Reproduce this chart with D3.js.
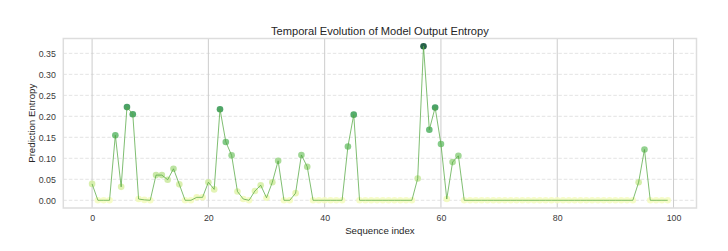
<!DOCTYPE html>
<html><head><meta charset="utf-8">
<script src="https://cdn.jsdelivr.net/npm/d3@7"></script>
<style>body{margin:0;background:#fff;} svg{display:block;font-family:"Liberation Sans",Arial,sans-serif;}</style>
</head><body>
<svg id="c" width="728" height="251"></svg>
<script>
const title = "Temporal Evolution of Model Output Entropy";
const xLabel = "Sequence index";
const yLabel = "Prediction Entropy";
const xTicks = [0, 20, 40, 60, 80, 100];
const yTicks = [0.00, 0.05, 0.10, 0.15, 0.20, 0.25, 0.30, 0.35];
const entropy = [
  0.039, 0.000, 0.000, 0.000, 0.155, 0.032, 0.222, 0.205, 0.003, 0.001,
  0.000, 0.060, 0.060, 0.049, 0.075, 0.038, 0.000, 0.000, 0.007, 0.007,
  0.043, 0.026, 0.217, 0.139, 0.107, 0.021, 0.003, 0.000, 0.022, 0.036,
  0.006, 0.043, 0.094, 0.000, 0.000, 0.017, 0.108, 0.080, 0.000, 0.000,
  0.000, 0.000, 0.000, 0.000, 0.128, 0.204, 0.000, 0.000, 0.000, 0.000,
  0.000, 0.000, 0.000, 0.000, 0.000, 0.000, 0.052, 0.367, 0.168, 0.221,
  0.134, 0.003, 0.091, 0.106, 0.000, 0.000, 0.000, 0.000, 0.000, 0.000,
  0.000, 0.000, 0.000, 0.000, 0.000, 0.000, 0.000, 0.000, 0.000, 0.000,
  0.000, 0.000, 0.000, 0.000, 0.000, 0.000, 0.000, 0.000, 0.000, 0.000,
  0.000, 0.000, 0.000, 0.000, 0.043, 0.121, 0.000, 0.000, 0.000, 0.000
];
const data = entropy.map((v, i) => ({i, v}));

const svg = d3.select("#c");
const L = 63.3, R = 696.5, T = 38.5, B = 208;
const n = entropy.length;
const xm = (n - 1) * 0.05;
const vmax = d3.max(entropy);
const ym = vmax * 0.05;
const x = d3.scaleLinear().domain([-xm, n - 1 + xm]).range([L, R]);
const y = d3.scaleLinear().domain([-ym, vmax + ym]).range([B, T]);
const cnorm = d3.scalePow().exponent(0.8).domain([-0.03, vmax]).range([0, 1]).clamp(true);
const color = v => d3.interpolateYlGn(cnorm(v));

// grid
svg.append("g").selectAll("line").data(yTicks).join("line")
  .attr("x1", L).attr("x2", R).attr("y1", d => y(d)).attr("y2", d => y(d))
  .attr("stroke", "#dcdcdc").attr("stroke-width", 0.8).attr("stroke-dasharray", "3.5,2");
svg.append("g").selectAll("line").data(xTicks).join("line")
  .attr("x1", d => x(d)).attr("x2", d => x(d)).attr("y1", T).attr("y2", B)
  .attr("stroke", "#cccccc").attr("stroke-width", 1);

// spines
svg.append("rect").attr("x", L).attr("y", T).attr("width", R - L).attr("height", B - T)
  .attr("fill", "none").attr("stroke", "#dddddd").attr("stroke-width", 1.5);

// points
svg.append("g").selectAll("circle").data(data).join("circle")
  .attr("cx", d => x(d.i)).attr("cy", d => y(d.v)).attr("r", 3.3)
  .attr("fill", d => color(d.v)).attr("fill-opacity", 0.85);

// line
svg.append("path").datum(data)
  .attr("d", d3.line().x(d => x(d.i)).y(d => y(d.v)))
  .attr("fill", "none").attr("stroke", "#55a843").attr("stroke-opacity", 0.75).attr("stroke-width", 1);

// axes
const xa = d3.axisBottom(x).tickValues(xTicks).tickSize(0).tickPadding(7).tickFormat(d3.format("d"));
const gx = svg.append("g").attr("transform", `translate(0,${B})`).call(xa);
const ya = d3.axisLeft(y).tickValues(yTicks).tickSize(0).tickPadding(7.5).tickFormat(d3.format(".2f"));
const gy = svg.append("g").attr("transform", `translate(${L},0)`).call(ya);
[gx, gy].forEach(g => {
  g.select(".domain").remove();
  g.selectAll("text").attr("fill", "#3a3a3a").attr("font-size", 8.8).attr("font-family", "Liberation Sans, Arial, sans-serif");
});

svg.append("text").attr("x", (L + R) / 2).attr("y", 35).attr("text-anchor", "middle")
  .attr("font-size", 11.1).attr("fill", "#262626").text(title);
svg.append("text").attr("x", (L + R) / 2).attr("y", 234).attr("text-anchor", "middle")
  .attr("font-size", 9.7).attr("fill", "#262626").text(xLabel);
svg.append("text").attr("transform", `translate(35,${(T + B) / 2}) rotate(-90)`).attr("text-anchor", "middle")
  .attr("font-size", 9.7).attr("fill", "#262626").text(yLabel);
</script>
</body></html>
